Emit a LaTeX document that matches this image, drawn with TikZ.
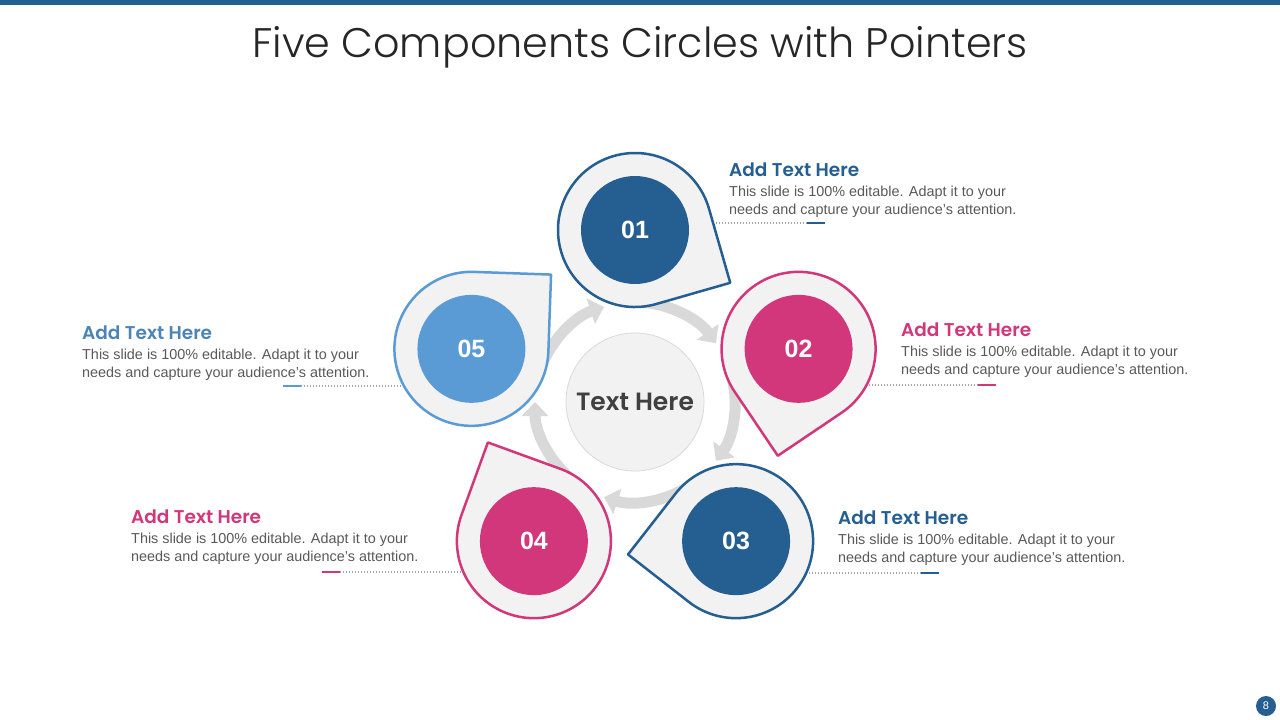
\documentclass[tikz,border=0pt]{standalone}
\usepackage{fontspec}
\setmainfont{Liberation Sans}
\IfFontExistsTF{Poppins SemiBold}{\newfontfamily\headfont{Poppins SemiBold}}{\newfontfamily\headfont{Poppins}[UprightFont=*-Bold]}
\IfFontExistsTF{Poppins Light}{\newfontfamily\titlefont{Poppins Light}}{\newfontfamily\titlefont{Poppins}}
\usepackage{xcolor}
\usetikzlibrary{positioning}
\usetikzlibrary{backgrounds}
\usetikzlibrary{arrows.meta}

\definecolor{deepblue}{HTML}{255E91}
\definecolor{rosepink}{HTML}{D1377A}
\definecolor{skyblue}{HTML}{5B9BD5}
\definecolor{ringgray}{HTML}{D9D9D9}
\definecolor{pinfill}{HTML}{F2F2F2}
\definecolor{bodygray}{HTML}{595959}

\begin{document}
\begin{tikzpicture}[x=1pt,y=-1pt,
    pin/.style={fill=pinfill,line width=2.5pt,line join=round},
    core/.style={circle,minimum size=108pt,inner sep=0pt,text=white,font=\fontsize{25}{25}\selectfont\bfseries},
    ringarrow/.style={draw=ringgray,line width=11pt,-{Triangle[length=14pt,width=26pt]}},
    head/.style={anchor=west,inner sep=0pt,font=\headfont\fontsize{18.5}{21}\selectfont},
    body/.style={inner sep=0pt,align=left,text=bodygray,font=\fontsize{14.4}{18}\selectfont},
    leader/.style={draw=black!35,line width=1.2pt,dash pattern=on 1.2pt off 1.8pt},
    tickmark/.style={line width=2.2pt}]
\useasboundingbox (0,0) rectangle (1280,720);
\fill[deepblue] (0,0) rectangle (1280,5);
\node[font=\titlefont\fontsize{41.3}{42}\selectfont,text=black!85,anchor=base] (title) at (640,57) {Five Components Circles with Pointers};

% hub and ring of arrows
\node[circle,fill=pinfill,draw=ringgray,line width=0.8pt,minimum size=138pt,text=black!75,
      font=\headfont\fontsize{25}{25}\selectfont] (hub) at (635,402) {Text Here};
\foreach \k in {0,...,4}{
    \pgfmathsetmacro\sang{-85+72*\k}
    \pgfmathsetmacro\eang{-36+72*\k}
    \draw[ringarrow] ([shift={(\sang:100)}]hub.center) arc[start angle=\sang,end angle=\eang,radius=100];
}

% pointer pins
\foreach \k/\col/\num in {0/deepblue/01,1/rosepink/02,2/deepblue/03,3/rosepink/04,4/skyblue/05}{
    \pgfmathsetmacro\pos{-90+72*\k}
    \pgfmathsetmacro\tipang{\pos+119}
    \coordinate (o\num) at ([shift={(\pos:172)}]hub.center);
    \begin{scope}[shift={(o\num)}]
        \draw[pin,draw=\col] (\tipang:108.9) -- ({\tipang+45}:77) arc[start angle=\tipang+45,delta angle=270,radius=77] -- cycle;
        \node[core,fill=\col] (p\num) at (0,0) {\num};
    \end{scope}
}

% dotted leaders
\begin{scope}[on background layer]
    \fill[white] (0,0) rectangle (1280,720);
    \coordinate (d1) at (807,223);
    \coordinate (d2) at (978,385);
    \coordinate (d3) at (921,573);
    \coordinate (d4) at (340,572);
    \coordinate (d5) at (301,386);
    \draw[leader] (d1) -- (d1 -| p01);
    \draw[leader] (d2) -- (d2 -| p02);
    \draw[leader] (d3) -- (d3 -| p03);
    \draw[leader] (d4) -- (d4 -| p04);
    \draw[leader] (d5) -- (d5 -| p05);
\end{scope}
\draw[tickmark,deepblue] (d1) -- ++(18,0);
\draw[tickmark,rosepink] (d2) -- ++(18,0);
\draw[tickmark,deepblue] (d3) -- ++(18,0);
\draw[tickmark,rosepink] (d4) -- ++(-18,0);
\draw[tickmark,skyblue] (d5) -- ++(-18,0);

% texts
\node[head,text=deepblue] (h1) at (729,170) {Add Text Here};
\node[body,below=9pt of h1.south west,anchor=north west] (b1) {This slide is 100\% editable. Adapt it to your\\needs and capture your audience’s attention.};
\node[head,text=rosepink] (h2) at (901,330) {Add Text Here};
\node[body,below=9pt of h2.south west,anchor=north west] (b2) {This slide is 100\% editable. Adapt it to your\\needs and capture your audience’s attention.};
\node[head,text=deepblue] (h3) at (838,518) {Add Text Here};
\node[body,below=9pt of h3.south west,anchor=north west] (b3) {This slide is 100\% editable. Adapt it to your\\needs and capture your audience’s attention.};
\node[head,text=rosepink] (h4) at (131,517) {Add Text Here};
\node[body,below=9pt of h4.south west,anchor=north west] (b4) {This slide is 100\% editable. Adapt it to your\\needs and capture your audience’s attention.};
\node[head,text=skyblue!85!black] (h5) at (82,333) {Add Text Here};
\node[body,below=9pt of h5.south west,anchor=north west] (b5) {This slide is 100\% editable. Adapt it to your\\needs and capture your audience’s attention.};

\node[circle,fill=deepblue,minimum size=20pt,inner sep=0pt,text=white,font=\fontsize{11}{11}\selectfont] (pg) at (1266,706) {8};
\end{tikzpicture}
\end{document}
